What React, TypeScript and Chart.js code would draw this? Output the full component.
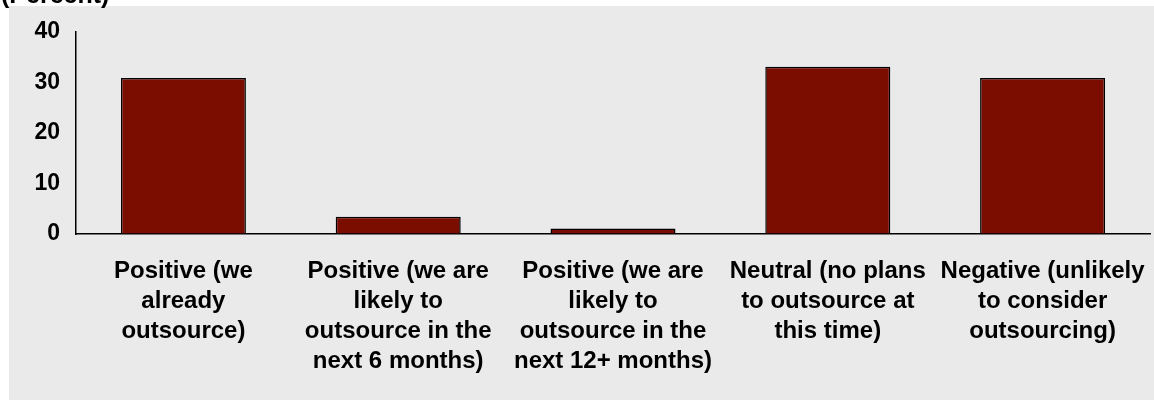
import React, { useEffect, useRef } from "react";
import { Chart, registerables } from "chart.js";

Chart.register(...registerables);

const categories: string[][] = [
  ["Positive (we", "already", "outsource)"],
  ["Positive (we are", "likely to", "outsource in the", "next 6 months)"],
  ["Positive (we are", "likely to", "outsource in the", "next 12+ months)"],
  ["Neutral (no plans", "to outsource at", "this time)"],
  ["Negative (unlikely", "to consider", "outsourcing)"],
];
const values: number[] = [30.9, 3.4, 1.1, 33.1, 30.9];
const yTicks: number[] = [0, 10, 20, 30, 40];
const titleText = "(Percent)";

const FONT = "'Liberation Sans', Arial, sans-serif";

const panelPlugin = {
  id: "panel",
  beforeDraw(chart: any) {
    const ctx = chart.ctx;
    ctx.save();
    ctx.fillStyle = "#ffffff";
    ctx.fillRect(0, 0, chart.width, chart.height);
    ctx.fillStyle = "#EAEAEA";
    ctx.fillRect(9, 6, chart.width - 9, chart.height - 6);
    ctx.fillStyle = "#000";
    ctx.font = `bold 25px ${FONT}`;
    ctx.textBaseline = "alphabetic";
    ctx.textAlign = "left";
    ctx.fillText(titleText, 1, 3);
    ctx.restore();
  },
};

export default function App() {
  const ref = useRef<HTMLCanvasElement>(null);
  useEffect(() => {
    if (!ref.current) return;
    const chart = new Chart(ref.current, {
      type: "bar",
      data: {
        labels: categories,
        datasets: [
          {
            data: values,
            backgroundColor: "#7B0C00",
            borderColor: "#000000",
            borderWidth: 1.5,
            barPercentage: 0.582,
            categoryPercentage: 1,
          },
        ],
      },
      options: {
        animation: false,
        responsive: false,
        maintainAspectRatio: false,
        layout: { padding: { top: 32, right: 4, left: 0, bottom: 0 } },
        plugins: {
          legend: { display: false },
          tooltip: { enabled: false },
          title: { display: false },
        },
        scales: {
          x: {
            grid: { display: true, color: "transparent", drawTicks: false },
            border: { display: true, color: "#000", width: 1.5 },
            ticks: {
              color: "#000",
              font: { family: FONT, size: 24, weight: "bold", lineHeight: 1.25 },
              padding: 22,
              maxRotation: 0,
              autoSkip: false,
            },
            afterFit: (s: any) => {
              s.height = 166;
              s.paddingLeft = 0;
              s.paddingRight = 0;
            },
          },
          y: {
            min: 0,
            max: 40,
            afterBuildTicks: (s: any) => {
              s.ticks = yTicks.map((v) => ({ value: v }));
            },
            grid: { display: true, color: "transparent", drawTicks: false },
            border: { display: true, color: "#000", width: 1.5 },
            ticks: {
              color: "#000",
              font: { family: FONT, size: 23, weight: "bold" },
              padding: 16,
            },
            afterFit: (s: any) => {
              s.width = 76;
            },
          },
        },
      },
      plugins: [panelPlugin],
    });
    return () => chart.destroy();
  }, []);
  return (
    <div style={{ position: "absolute", left: 0, top: 0, width: 1154, height: 400, background: "#fff" }}>
      <canvas ref={ref} width={1154} height={400} style={{ display: "block", width: 1154, height: 400 }} />
    </div>
  );
}
